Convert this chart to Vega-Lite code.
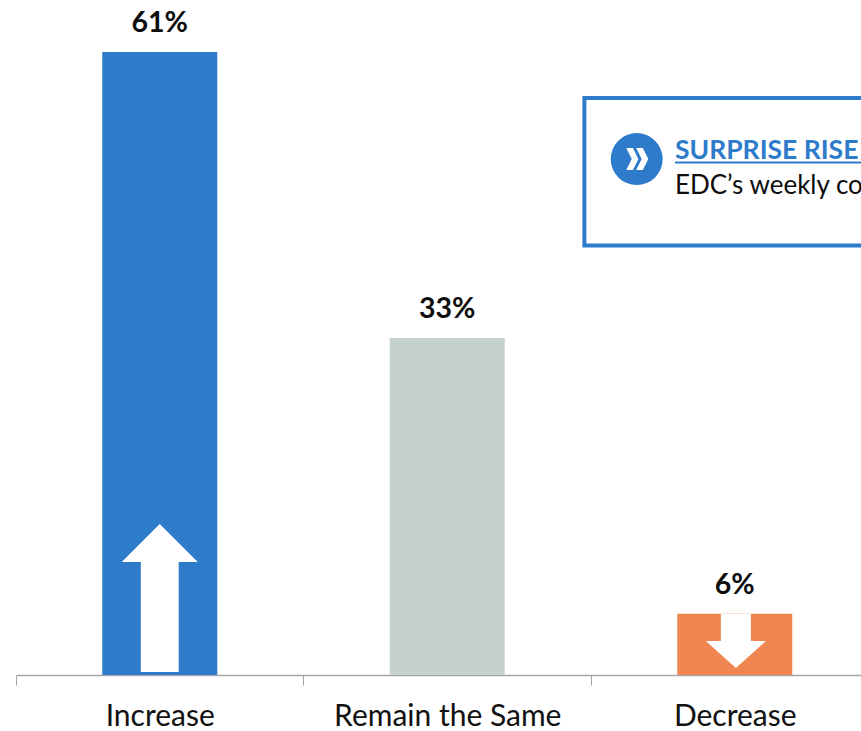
{
  "$schema": "https://vega.github.io/schema/vega-lite/v6.json",
  "autosize": {"type": "none"},
  "padding": {"left": 16, "top": 0, "right": 0, "bottom": 56},
  "width": 862.5,
  "height": 675,
  "background": "white",
  "config": {"view": {"stroke": null}, "font": "Lato"},
  "resolve": {"scale": {"x": "independent"}, "axis": {"x": "independent"}},
  "layer": [
    {
      "data": {"values": [
        {"category": "Increase", "share": 61, "label": "61%"},
        {"category": "Remain the Same", "share": 33, "label": "33%"},
        {"category": "Decrease", "share": 6, "label": "6%"}
      ]},
      "encoding": {
        "x": {
          "field": "category", "type": "nominal", "sort": null,
          "scale": {"paddingInner": 0.6, "paddingOuter": 0.3},
          "axis": {
            "title": null, "labelAngle": 0, "labelFont": "Lato", "labelFontSize": 30,
            "labelColor": "#111111", "labelPadding": 31, "labelBaseline": "middle", "labelLimit": 400,
            "tickBand": "center", "tickOffset": -144, "labelOffset": 144,
            "tickSize": 10, "tickColor": "#a6a6a6", "tickWidth": 1,
            "domainColor": "#a6a6a6", "domainWidth": 1.5, "grid": false
          }
        },
        "y": {
          "field": "share", "type": "quantitative",
          "scale": {"domain": [0, 66.1], "nice": false},
          "axis": null
        }
      },
      "layer": [
        {
          "mark": {"type": "bar"},
          "encoding": {
            "color": {
              "field": "category", "type": "nominal", "legend": null,
              "scale": {
                "domain": ["Increase", "Remain the Same", "Decrease"],
                "range": ["#2f7bcb", "#c5d1cd", "#ef8550"]
              }
            }
          }
        },
        {
          "mark": {"type": "text", "baseline": "bottom", "dy": -14, "font": "Lato", "fontWeight": "bold", "fontSize": 28.5, "color": "#0d0d0d"},
          "encoding": {"text": {"field": "label"}}
        }
      ]
    },
    {
      "encoding": {
        "x": {"field": "x", "type": "quantitative", "scale": {"domain": [0, 3], "nice": false, "zero": false}, "axis": null},
        "y": {"field": "y", "type": "quantitative", "scale": {"domain": [0, 66.1], "nice": false}, "axis": null}
      },
      "layer": [
        {
          "data": {"values": [{"x": 0.5, "y": 7.54}]},
          "mark": {"type": "point", "filled": true, "opacity": 1, "color": "white", "size": 21904,
            "shape": "M0,-1 L0.514,-0.486 L0.256,-0.486 L0.256,1 L-0.256,1 L-0.256,-0.486 L-0.514,-0.486 Z"}
        },
        {
          "data": {"values": [{"x": 2.504, "y": 3.33}]},
          "mark": {"type": "point", "filled": true, "opacity": 1, "color": "white", "size": 2916,
            "shape": "M-0.556,-1 L0.556,-1 L0.556,0 L1.112,0 L0,1 L-1.112,0 L-0.556,0 Z"}
        },
        {
          "data": {"values": [{"x": 1.977, "x2": 3.0, "y": 56.5, "y2": 42.05}]},
          "mark": {"type": "rect", "fill": "white", "stroke": "#2f7bcb", "strokeWidth": 4},
          "encoding": {"x2": {"field": "x2"}, "y2": {"field": "y2"}}
        },
        {
          "data": {"values": [{"x": 2.159, "y": 50.52}]},
          "mark": {"type": "point", "shape": "circle", "filled": true, "opacity": 1, "color": "#2f7bcb", "size": 2704}
        },
        {
          "data": {"values": [{"x": 2.161, "y": 50.52}]},
          "mark": {"type": "point", "filled": true, "opacity": 1, "color": "white", "size": 484,
            "shape": "M-1,-1 L-0.4,-1 L0.1,0 L-0.4,1 L-1,1 L-0.5,0 Z M-0.1,-1 L0.5,-1 L1,0 L0.5,1 L-0.1,1 L0.4,0 Z"}
        },
        {
          "data": {"values": [{"x": 2.292, "x2": 3.0, "y": 50.18}]},
          "mark": {"type": "rule", "color": "#2f7bcb", "strokeWidth": 2},
          "encoding": {"x2": {"field": "x2"}}
        },
        {
          "data": {"values": [
            {"x": 2.292, "y": 50.55, "text": "SURPRISE RISE IN"}
          ]},
          "mark": {"type": "text", "align": "left", "baseline": "alphabetic", "font": "Lato", "fontWeight": "bold", "fontSize": 26.5, "color": "#2f7bcb"},
          "encoding": {"text": {"field": "text"}}
        },
        {
          "data": {"values": [
            {"x": 2.292, "y": 47.1, "text": "EDC’s weekly co"}
          ]},
          "mark": {"type": "text", "align": "left", "baseline": "alphabetic", "font": "Lato", "fontSize": 26, "color": "#0d0d0d"},
          "encoding": {"text": {"field": "text"}}
        }
      ]
    }
  ]
}
